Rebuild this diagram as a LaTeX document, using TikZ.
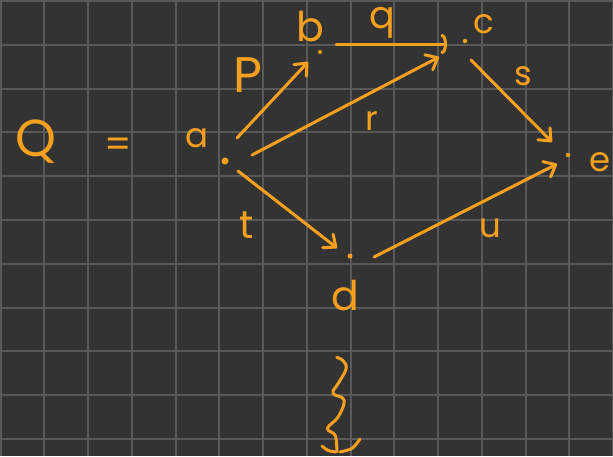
\documentclass[tikz,border=0pt]{standalone}
\usepackage{fontspec}
\setmainfont{Poppins}
\usetikzlibrary{arrows.meta}
\definecolor{bg}{HTML}{333333}
\definecolor{gridc}{HTML}{595959}
\definecolor{ink}{HTML}{F6A01E}
\tikzset{
  ink/.style={draw=ink, line width=3pt, line cap=round, line join=round},
  arr/.style={ink, -{Straight Barb[length=10pt,width=17pt,round]}},
  arcarr/.style={ink, -{Arc Barb[length=5pt,width=20pt,round]}},
  dotnode/.style={circle, fill=ink, inner sep=0pt, minimum size=#1},
  lbl/.style={text=ink, inner sep=0pt, font=\fontsize{34}{40}\selectfont},
  tall/.style={text=ink, inner sep=0pt, font=\fontsize{41}{46}\selectfont},
  biglbl/.style={text=ink, inner sep=0pt, font=\fontsize{52}{58}\selectfont},
}
\begin{document}
\begin{tikzpicture}[x=1pt,y=-1pt]
\useasboundingbox (0,0) rectangle (613,456);
\fill[bg] (0,0) rectangle (613,456);
% grid
\foreach \k in {0,...,14} {\draw[gridc, line width=2pt] ({0.5+43.75*\k},0) -- ({0.5+43.75*\k},456);}
\foreach \k in {0,...,10} {\draw[gridc, line width=2pt] (0,{1+43.8*\k}) -- (613,{1+43.8*\k});}
% points
\node[dotnode=7pt] (a) at (225,161) {};
\node[dotnode=4pt] (b) at (320,52) {};
\node[dotnode=4.5pt] (c) at (465,41) {};
\node[dotnode=5pt] (d) at (350,256) {};
\node[dotnode=4.5pt] (e) at (568,155) {};
% point labels
\node[biglbl] (Q) at (36,142) {Q};
\node[lbl, font=\fontsize{38}{44}\selectfont] (eq) at (118,148) {=};
\node[lbl] (la) at (197,138) {a};
\node[tall] (lb) at (310,27) {b};
\node[lbl] (lc) at (484,24) {c};
\node[tall] (ld) at (345,296) {d};
\node[lbl] (le) at (600,162) {e};
% arrow labels
\node[lbl, font=\fontsize{50}{56}\selectfont] (lp) at (248,75) {P};
\node[lbl, font=\fontsize{38}{44}\selectfont] (lq) at (382,23) {q};
\node[lbl] (lr) at (372,121) {r};
\node[lbl] (ls) at (523,76) {s};
\node[lbl, font=\fontsize{39}{44}\selectfont] (lt) at (247,225) {t};
\node[lbl] (lu) at (490,228) {u};
% arrows
\draw[arr] ([shift={(12,-23)}]a.center) -- ([shift={(-12,10)}]b.center);
\draw[arcarr] ([shift={(16,-8)}]b.center) -- ([shift={(-18,3)}]c.center);
\draw[arr] ([shift={(27,-6)}]a.center) -- ([shift={(-26,16)}]c.center);
\draw[arr] ([shift={(6,19)}]c.center) -- ([shift={(-16,-13)}]e.center);
\draw[arr] ([shift={(13,10)}]a.center) -- ([shift={(-13,-8)}]d.center);
\draw[arr] ([shift={(24,1)}]d.center) -- ([shift={(-11,9)}]e.center);
% squiggle
\draw[ink] plot[smooth, tension=0.7] coordinates {(336.7,357.3) (343.3,361) (346,369) (338.3,383.3) (333,393.3) (344,400) (338.3,416.7) (327.5,428.3) (335,435) (336.7,446.7) (337,451.7)};
\draw[ink] (322,446) .. controls (328,451) .. (336,452);
\draw[ink] (360,439) .. controls (353,449) .. (340,452);
\end{tikzpicture}
\end{document}
